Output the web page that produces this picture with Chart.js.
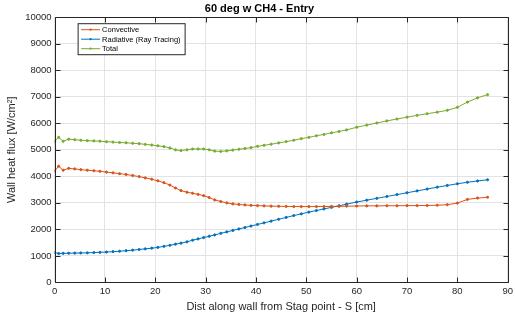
<!DOCTYPE html>
<html>
<head>
<meta charset="utf-8">
<script src="https://cdn.jsdelivr.net/npm/chart.js@4.4.1/dist/chart.umd.min.js"></script>
<style>
  body { margin: 0; background: #fff; }
  canvas { display: block; }
</style>
</head>
<body>
<canvas id="c" width="516" height="322"></canvas>
<script>
// distance along wall [cm]
const distCm = [0, 0.8, 1.7, 2.8, 4, 5.2, 6.5, 7.8, 9, 10.3, 11.6, 12.9, 14.2, 15.5, 16.8, 18, 19.3, 20.5,
  21.7, 22.9, 24, 25.1, 26.3, 27.4, 28.5, 29.6, 30.7, 31.8, 33, 34.2, 35.4, 36.6, 37.8, 39, 40.3, 41.6,
  43, 44.5, 46, 47.5, 49, 50.5, 52, 53.5, 55, 56.5, 58, 60, 62, 64, 66, 68, 70, 72, 74, 76, 78, 80, 82, 84, 86];

const convective = [4200, 4380, 4230, 4300, 4280, 4250, 4230, 4210, 4190, 4160, 4130, 4100, 4070, 4030, 3990, 3940, 3890, 3830,
  3760, 3670, 3560, 3460, 3400, 3360, 3320, 3270, 3200, 3110, 3050, 3000, 2960, 2940, 2920, 2905, 2895, 2885,
  2875, 2870, 2865, 2860, 2860, 2860, 2860, 2860, 2865, 2870, 2875, 2880, 2885, 2885, 2890, 2890, 2895, 2895, 2900, 2910, 2930, 2990, 3130, 3180, 3210];

const radiative = [1120, 1090, 1095, 1100, 1105, 1110, 1115, 1125, 1135, 1145, 1160, 1175, 1195, 1215, 1240, 1265, 1290, 1320,
  1360, 1400, 1440, 1480, 1530, 1590, 1640, 1690, 1740, 1790, 1850, 1905, 1960, 2015, 2070, 2125, 2185, 2245,
  2310, 2380, 2450, 2520, 2585, 2650, 2710, 2770, 2830, 2890, 2950, 3030, 3100, 3170, 3240, 3310, 3380, 3450, 3520, 3590, 3655, 3720, 3775, 3825, 3870];

const total = [5320, 5470, 5320, 5400, 5380, 5360, 5345, 5335, 5325, 5305, 5290, 5275, 5265, 5245, 5230, 5205, 5180, 5150,
  5120, 5070, 5000, 4970, 5000, 5030, 5030, 5030, 5000, 4950, 4940, 4960, 4990, 5020, 5050, 5080, 5130, 5170,
  5210, 5260, 5310, 5360, 5420, 5470, 5530, 5580, 5640, 5690, 5750, 5850, 5930, 6010, 6090, 6160, 6230, 6300, 6360, 6420, 6490, 6600, 6800, 6960, 7080];

const seriesNames = ['Convective', 'Radiative (Ray Tracing)', 'Total'];
const seriesColors = ['#D95319', '#0072BD', '#77AC30'];
const xTicks = [0, 10, 20, 30, 40, 50, 60, 70, 80, 90];
const yTicks = [0, 1000, 2000, 3000, 4000, 5000, 6000, 7000, 8000, 9000, 10000];

const FONT = 'Liberation Sans, Arial, Helvetica, sans-serif';
const TXT = '#262626';

function toPoints(ys) {
  return distCm.map((x, i) => ({ x: x, y: ys[i] }));
}

const datasets = [convective, radiative, total].map((ys, i) => ({
  label: seriesNames[i],
  data: toPoints(ys),
  borderColor: seriesColors[i],
  backgroundColor: seriesColors[i],
  borderWidth: 1,
  pointRadius: 1.1,
  pointStyle: 'circle',
  tension: 0
}));

// MATLAB-like box with inward ticks and a boxed legend
const matlabBox = {
  id: 'matlabBox',
  afterDraw(chart) {
    const ctx = chart.ctx;
    const a = chart.chartArea;
    const xs = chart.scales.x, ys = chart.scales.y;
    ctx.save();
    ctx.strokeStyle = '#262626';
    ctx.lineWidth = 1;
    ctx.beginPath();
    const L = Math.round(a.left) + 0.5, R = Math.round(a.right) + 0.5;
    const T = Math.round(a.top) + 0.5, B = Math.round(a.bottom) + 0.5;
    ctx.rect(L, T, R - L, B - T);
    xTicks.forEach(v => {
      const px = Math.round(xs.getPixelForValue(v)) + 0.5;
      ctx.moveTo(px, B); ctx.lineTo(px, B - 5);
      ctx.moveTo(px, T); ctx.lineTo(px, T + 5);
    });
    yTicks.forEach(v => {
      const py = Math.round(ys.getPixelForValue(v)) + 0.5;
      ctx.moveTo(L, py); ctx.lineTo(L + 5, py);
      ctx.moveTo(R, py); ctx.lineTo(R - 5, py);
    });
    ctx.stroke();

    // legend
    const lx = a.left + 23.5, ly = a.top + 6.5, lw = 107, lh = 31;
    ctx.fillStyle = '#fff';
    ctx.fillRect(lx, ly, lw, lh);
    ctx.strokeRect(lx, ly, lw, lh);
    ctx.font = '7.5px ' + FONT;
    ctx.textBaseline = 'middle';
    seriesNames.forEach((name, i) => {
      const yy = ly + 6 + i * 9.5;
      ctx.strokeStyle = seriesColors[i];
      ctx.fillStyle = seriesColors[i];
      ctx.beginPath();
      ctx.moveTo(lx + 3, yy); ctx.lineTo(lx + 22, yy);
      ctx.stroke();
      ctx.beginPath();
      ctx.arc(lx + 12.5, yy, 1.1, 0, Math.PI * 2);
      ctx.fill();
      ctx.fillStyle = '#000';
      ctx.fillText(name, lx + 24, yy + 0.5);
    });
    ctx.restore();
  }
};

new Chart(document.getElementById('c'), {
  type: 'line',
  data: { datasets: datasets },
  options: {
    responsive: false,
    animation: false,
    layout: { padding: { left: 5, right: 2, top: 0, bottom: 8 } },
    plugins: {
      legend: { display: false },
      tooltip: { enabled: false },
      title: {
        display: true,
        text: '60 deg w CH4 - Entry',
        color: '#000',
        font: { family: FONT, size: 11, weight: 'bold' },
        padding: { top: 2, bottom: 2 }
      }
    },
    scales: {
      x: {
        type: 'linear',
        min: 0, max: 90,
        afterBuildTicks: s => { s.ticks = xTicks.map(v => ({ value: v })); },
        ticks: { color: TXT, font: { family: FONT, size: 9.5 }, padding: 3, maxRotation: 0, callback: v => String(v) },
        grid: { color: '#e3e3e3', tickLength: 0, drawTicks: false },
        border: { display: false },
        title: {
          display: true,
          text: 'Dist along wall from Stag point - S [cm]',
          color: TXT,
          font: { family: FONT, size: 11 },
          padding: { top: 1, bottom: 0 }
        }
      },
      y: {
        min: 0, max: 10000,
        afterBuildTicks: s => { s.ticks = yTicks.map(v => ({ value: v })); },
        ticks: { color: TXT, font: { family: FONT, size: 9.5 }, padding: 3, callback: v => String(v) },
        grid: { color: '#e3e3e3', tickLength: 0, drawTicks: false },
        border: { display: false },
        title: {
          display: true,
          text: 'Wall heat flux [W/cm²]',
          color: TXT,
          font: { family: FONT, size: 11 },
          padding: { top: 0, bottom: 4 }
        }
      }
    }
  },
  plugins: [matlabBox]
});
</script>
</body>
</html>
